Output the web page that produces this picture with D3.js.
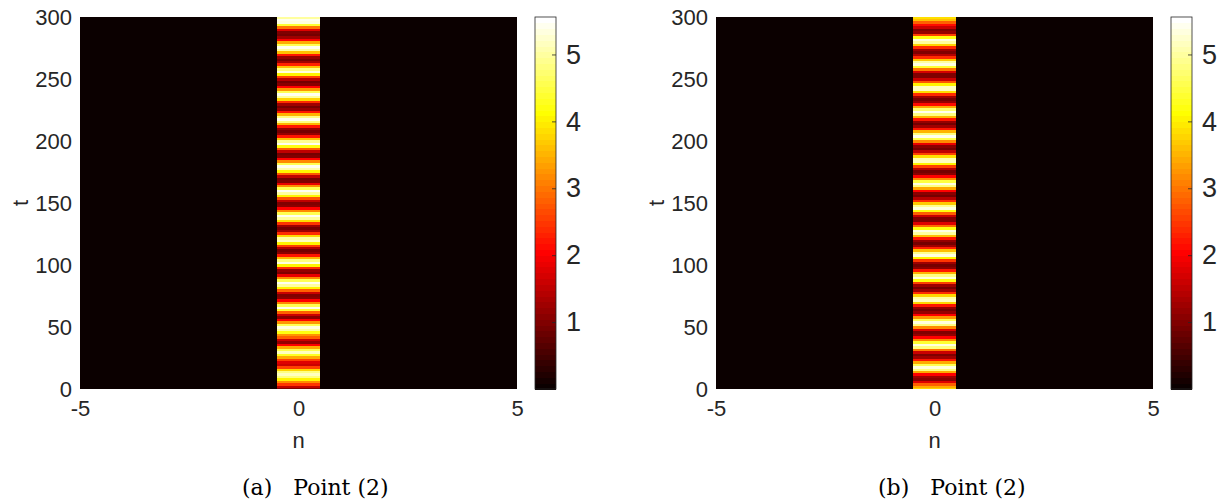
<!DOCTYPE html>
<html>
<head>
<meta charset="utf-8">
<script src="https://cdn.jsdelivr.net/npm/d3@7"></script>
<style>
  body { margin: 0; background: #fff; }
  svg text { font-family: "Liberation Sans", Arial, sans-serif; fill: #262626; }
  .caption { font-family: "DejaVu Serif", "Liberation Serif", serif; fill: #000; white-space: pre; }
</style>
</head>
<body>
<svg id="chart" width="1229" height="504"></svg>
<script>
// lattice sites and time samples
const sites = [-5, -4, -3, -2, -1, 0, 1, 2, 3, 4, 5];
const timeSamples = d3.range(0, 301, 2);
const tTicks = [0, 50, 100, 150, 200, 250, 300];
const nTicks = [-5, 0, 5];
const cbTicks = [1, 2, 3, 4, 5];
const offSiteValue = 0;

// |u_0(t)|^2, t = 0, 2, 4, ... 300
const centreA = [
  1.0, 1.5, 2.5, 3.2, 4.0, 4.8, 5.2, 4.8, 3.8, 2.6,
  1.6, 1.8, 2.6, 3.4, 4.3, 5.2, 4.6, 3.4, 2.0, 1.2,
  1.6, 2.8, 3.3, 4.2, 5.0, 5.3, 4.6, 3.3, 2.0, 1.1,
  1.6, 2.8, 4.4, 5.4, 4.6, 3.2, 2.0, 1.1, 1.0, 1.6,
  2.8, 4.0, 5.0, 5.4, 4.6, 3.2, 1.9, 1.0, 1.2, 2.4,
  4.0, 5.3, 4.8, 3.5, 2.2, 1.1, 0.9, 1.4, 2.6, 4.0,
  5.2, 5.0, 3.8, 2.4, 1.3, 0.9, 1.3, 2.5, 3.9, 5.0,
  5.4, 4.6, 3.2, 2.0, 1.1, 1.0, 1.5, 2.7, 4.0, 5.0,
  5.4, 4.6, 3.2, 1.9, 1.0, 0.9, 1.5, 2.7, 4.0, 5.1,
  5.4, 4.6, 3.2, 2.0, 1.0, 0.9, 1.5, 2.8, 4.2, 5.4,
  4.9, 3.6, 2.2, 1.2, 0.9, 1.2, 2.2, 3.5, 4.8, 5.4,
  4.8, 3.5, 2.2, 1.2, 0.9, 1.3, 2.4, 3.8, 5.0, 5.4,
  4.6, 3.3, 2.0, 1.1, 0.9, 1.4, 2.6, 4.0, 5.3, 4.8,
  3.6, 2.3, 1.3, 0.9, 1.2, 2.2, 3.6, 5.0, 5.4, 4.6,
  3.4, 2.0, 1.3, 0.9, 1.0, 1.8, 3.0, 4.4, 5.3, 5.4,
  5.0
];
const centreB = [
  3.8, 3.4, 2.8, 1.8, 1.1, 1.3, 2.0, 3.4, 4.8, 5.3,
  4.6, 3.4, 2.2, 1.3, 1.0, 1.6, 3.0, 4.8, 5.3, 4.4,
  3.2, 2.0, 1.2, 1.0, 1.8, 3.2, 4.8, 5.3, 4.6, 3.3,
  2.0, 1.2, 0.9, 1.2, 2.2, 3.8, 5.2, 5.0, 3.8, 2.4,
  1.3, 0.9, 1.3, 2.6, 4.2, 5.3, 4.8, 3.5, 2.2, 1.1,
  0.9, 1.3, 2.5, 4.0, 5.3, 4.9, 3.6, 2.3, 1.3, 0.9,
  1.2, 2.2, 3.6, 5.0, 5.3, 4.2, 2.9, 1.8, 1.0, 1.0,
  1.6, 2.8, 4.2, 5.3, 4.9, 3.7, 2.4, 1.4, 0.9, 1.1,
  2.0, 3.4, 4.8, 5.3, 4.5, 3.2, 2.0, 1.1, 0.9, 1.4,
  2.6, 4.0, 5.2, 5.1, 3.9, 2.6, 1.5, 0.9, 1.1, 1.9,
  3.2, 4.6, 5.4, 4.8, 3.5, 2.2, 1.3, 0.9, 1.2, 2.2,
  3.5, 4.8, 5.4, 4.7, 3.4, 2.1, 1.2, 0.9, 1.3, 2.4,
  3.9, 5.2, 5.2, 4.0, 2.7, 1.6, 1.0, 1.0, 1.7, 3.0,
  4.4, 5.3, 5.0, 3.7, 2.4, 1.4, 1.0, 1.3, 2.4, 3.8,
  5.0, 5.3, 4.2, 2.6, 1.2, 1.0, 1.6, 2.1, 2.8, 3.6,
  3.9
];
const panels = [
  { label: "(a)", title: "Point (2)", centre: centreA },
  { label: "(b)", title: "Point (2)", centre: centreB }
];
const colorMin = 0, colorMax = 5.56;

// MATLAB-like "hot" colormap, 64 entries
const hotMap = (() => {
  const m = 64, n = Math.floor(3 / 8 * m), out = [];
  for (let i = 1; i <= m; i++) {
    const r = i <= n ? i / n : 1;
    const g = i <= n ? 0 : (i <= 2 * n ? (i - n) / n : 1);
    const b = i <= 2 * n ? 0 : (i - 2 * n) / (m - 2 * n);
    out.push(d3.rgb(r * 255, g * 255, b * 255).formatHex());
  }
  return out;
})();
const color = d3.scaleQuantize().domain([colorMin, colorMax]).range(hotMap);
const plain = d => (d < 0 ? "-" + Math.abs(d) : String(d));

const svg = d3.select("#chart");
const plotW = 437, plotH = 372, plotTop = 17;
const lefts = [80, 716];

panels.forEach((p, k) => {
  const g = svg.append("g").attr("transform", `translate(${lefts[k]},${plotTop})`);
  const x = d3.scaleLinear().domain([-5, 5]).range([0, plotW]);
  const y = d3.scaleLinear().domain([0, 300]).range([plotH, 0]);

  const clipId = "clip" + k;
  g.append("clipPath").attr("id", clipId)
    .append("rect").attr("width", plotW).attr("height", plotH);

  const cells = [];
  sites.forEach(s => {
    timeSamples.forEach((t, i) => {
      cells.push({ n: s, t: t, v: s === 0 ? p.centre[i] : offSiteValue });
    });
  });

  g.append("g").attr("clip-path", `url(#${clipId})`)
    .selectAll("rect")
    .data(cells)
    .join("rect")
    .attr("x", d => x(d.n - 0.5))
    .attr("width", x(1) - x(0) + 0.5)
    .attr("y", d => y(d.t + 1))
    .attr("height", y(0) - y(2) + 0.6)
    .attr("fill", d => color(d.v))
    .attr("shape-rendering", "crispEdges");

  // axes
  const yAxis = g.append("g").call(d3.axisLeft(y).tickValues(tTicks).tickFormat(plain).tickSize(0).tickPadding(8));
  yAxis.select(".domain").remove();
  yAxis.selectAll("text").style("font-size", "22px").attr("fill", "#262626");

  const xAxis = g.append("g").attr("transform", `translate(0,${plotH})`)
    .call(d3.axisBottom(x).tickValues(nTicks).tickFormat(plain).tickSize(0).tickPadding(11));
  xAxis.select(".domain").remove();
  xAxis.selectAll("text").style("font-size", "22px").attr("fill", "#262626");

  g.append("text")
    .attr("transform", `translate(${-60},${plotH / 2}) rotate(-90)`)
    .attr("text-anchor", "middle")
    .attr("dy", "0.35em")
    .style("font-size", "22px")
    .text("t");

  g.append("text")
    .attr("x", plotW / 2).attr("y", plotH + 51)
    .attr("dy", "0.35em")
    .attr("text-anchor", "middle")
    .style("font-size", "22px")
    .text("n");

  // colorbar
  const cbX = 455, cbW = 21;
  const cy = d3.scaleLinear().domain([colorMin, colorMax]).range([plotH, 0]);
  const cb = g.append("g").attr("transform", `translate(${cbX},0)`);
  const step = (colorMax - colorMin) / hotMap.length;
  cb.selectAll("rect.c")
    .data(hotMap)
    .join("rect")
    .attr("class", "c")
    .attr("x", 0)
    .attr("width", cbW)
    .attr("y", (c, i) => cy(colorMin + (i + 1) * step))
    .attr("height", (c, i) => cy(colorMin + i * step) - cy(colorMin + (i + 1) * step) + 0.5)
    .attr("fill", c => c)
    .attr("shape-rendering", "crispEdges");
  cb.append("rect")
    .attr("width", cbW).attr("height", plotH)
    .attr("fill", "none").attr("stroke", "#262626").attr("stroke-width", 0.8);
  const cbAxis = cb.append("g").attr("transform", `translate(${cbW},0)`)
    .call(d3.axisRight(cy).tickValues(cbTicks).tickFormat(plain).tickSize(-4).tickPadding(10));
  cbAxis.select(".domain").remove();
  cbAxis.selectAll("line").attr("stroke", "#262626").attr("stroke-width", 0.8);
  cbAxis.selectAll("text").style("font-size", "27px").attr("fill", "#262626");

  // caption
  svg.append("text")
    .attr("class", "caption")
    .attr("x", lefts[k] + 162)
    .attr("y", 495)
    .style("font-size", "22px")
    .text(p.label + "   " + p.title);
});
</script>
</body>
</html>
